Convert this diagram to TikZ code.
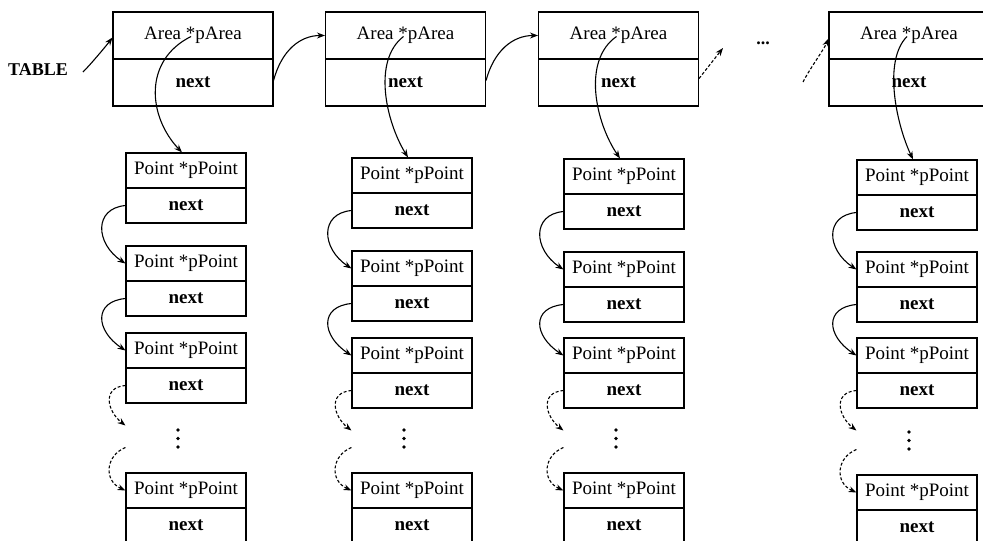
\documentclass[tikz,border=0pt]{standalone}
\usepackage{fontspec}
\setmainfont{Liberation Serif}
\usetikzlibrary{arrows.meta}
\begin{document}
\begin{tikzpicture}[x=1pt,y=-1pt,
  cell/.style={draw, line width=1.1pt, inner sep=0pt, font=\fontsize{19}{21}\selectfont},
  acell/.style={cell, minimum width=160pt, minimum height=47pt},
  pcell/.style={cell, minimum width=120pt, minimum height=35pt},
  nexttxt/.style={font=\fontsize{19}{21}\selectfont\bfseries},
  conn/.style={line width=1.1pt, -{Stealth[length=8pt,width=6pt]}},
  dconn/.style={conn, dash pattern=on 3pt off 2pt},
  vdot/.style={fill=black},
  lbl/.style={font=\fontsize{18}{20}\selectfont\bfseries, inner sep=0pt}]
\clip (0,0) rectangle (983,541);
\fill[white] (0,0) rectangle (983,541);
\foreach \c/\ax/\px/\ya/\yb/\yc/\yd/\k in {1/193/186/153/246/333/473/1.0, 2/405.5/412/158/251/338/473/0.65, 3/618.5/624/159/252/338/473/0.72, 4/909/917/160/252/338/475/0.5}{
  \node[acell] (at\c) at (\ax,35.5) {Area *pArea};
  \node[acell,nexttxt] (ab\c) at (\ax,82.5) {next};
  \node[pcell] (pa\c) at (\px,\ya+17.5) {Point *pPoint};
  \node[pcell,nexttxt] (na\c) at (\px,\ya+52.5) {next};
  \node[pcell] (pb\c) at (\px,\yb+17.5) {Point *pPoint};
  \node[pcell,nexttxt] (nb\c) at (\px,\yb+52.5) {next};
  \node[pcell] (pc\c) at (\px,\yc+17.5) {Point *pPoint};
  \node[pcell,nexttxt] (nc\c) at (\px,\yc+52.5) {next};
  \node[pcell] (pd\c) at (\px,\yd+17.5) {Point *pPoint};
  \node[pcell,nexttxt] (nd\c) at (\px,\yd+52.5) {next};
  \fill[vdot] (\px-8,\yd-43) circle (1.8);
  \fill[vdot] (\px-8,\yd-34.5) circle (1.8);
  \fill[vdot] (\px-8,\yd-26) circle (1.8);
  \coordinate (e\c) at ([yshift=-40pt]nc\c.west);
  \coordinate (s\c) at ([yshift=43pt]pd\c.west);
  \draw[conn] ([xshift=-2pt,yshift=-1pt]at\c.center) .. controls +(-48*\k,24) and +(-34*\k,-36) .. ([xshift=-4pt]pa\c.north);
  \draw[conn] (na\c.west) .. controls +(-32,3) and +(-30,-20) .. (pb\c.west);
  \draw[conn] (nb\c.west) .. controls +(-32,3) and +(-30,-20) .. (pc\c.west);
  \draw[dconn] (nc\c.west) .. controls +(-24,2) and +(-18,-14) .. (e\c);
  \draw[dconn] (s\c) .. controls +(-20,8) and +(-22,-10) .. (pd\c.west);
}
\node[lbl] (tab) at (38,70) {TABLE};
\coordinate (tt) at (83,72);
\draw[conn] (tt) .. controls +(8,-8) and +(-6,8) .. ([yshift=-2pt]at1.west);
\draw[conn] ([yshift=2pt]ab1.east) .. controls +(8,-30) and +(-25,0) .. (at2.west);
\draw[conn] ([yshift=2pt]ab2.east) .. controls +(8,-30) and +(-25,0) .. (at3.west);
\coordinate (d1) at (723,48);
\draw[dconn] ([yshift=4pt]ab3.east) -- (d1);
\node[lbl] (hd) at (763,43) {...};
\coordinate (d2) at (803,82);
\draw[dconn] (d2) .. controls +(6,-12) and +(-4,10) .. ([yshift=-3pt]at4.west);
\end{tikzpicture}
\end{document}
